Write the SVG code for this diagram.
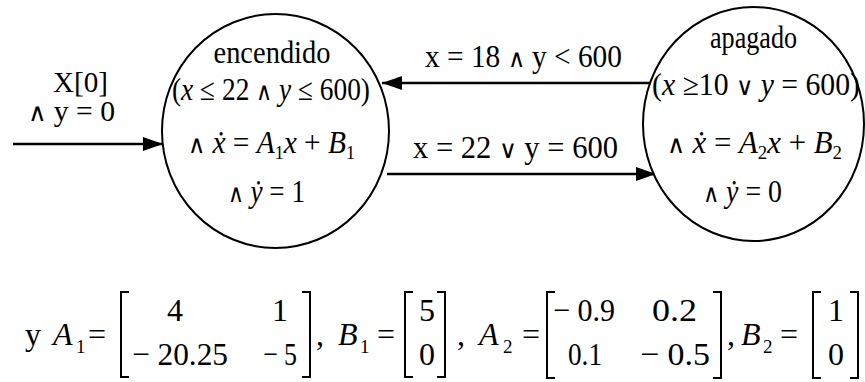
<svg xmlns="http://www.w3.org/2000/svg" width="865" height="382" viewBox="0 0 865 382">
<style>
text{font-family:"Liberation Serif","Times New Roman",serif;font-size:31px;fill:#000}
.i{font-style:italic}
.s{font-size:19px}
.m{font-size:32px}
.lb{font-size:29px}
.op{font-family:"DejaVu Sans ExtraLight","DejaVu Sans",sans-serif;font-weight:200;font-size:25px}
.node{fill:#fff;stroke:#000;stroke-width:2}
.edge{fill:none;stroke:#000;stroke-width:2.5}
.br{fill:none;stroke:#000;stroke-width:2}
</style>
<defs>
<marker id="ah" viewBox="0 0 20 14" refX="20" refY="7" markerWidth="20" markerHeight="14" markerUnits="userSpaceOnUse" orient="auto">
<path d="M0,0 L20,7 L0,14 z" fill="#000"/>
</marker>
</defs>
<rect width="865" height="382" fill="#fff"/>

<g id="connectors">
<path class="edge" d="M13,144 H163" marker-end="url(#ah)"/>
<path class="edge" d="M650,83 H382" marker-end="url(#ah)"/>
<path class="edge" d="M387,174 H656" marker-end="url(#ah)"/>
<text class="lb" x="53" y="92" textLength="55" lengthAdjust="spacingAndGlyphs">X[0]</text>
<text class="lb" x="28" y="121" textLength="87" lengthAdjust="spacingAndGlyphs"><tspan class="op">∧</tspan> y = 0</text>
<text x="425" y="67" textLength="197" lengthAdjust="spacingAndGlyphs">x = 18 <tspan class="op">∧</tspan> y &lt; 600</text>
<text x="413" y="158" textLength="205" lengthAdjust="spacingAndGlyphs">x = 22 <tspan class="op">∨</tspan> y = 600</text>
</g>

<g id="encendido">
<ellipse class="node" cx="275.5" cy="131" rx="113.5" ry="117"/>
<text x="272" y="63" text-anchor="middle" textLength="117" lengthAdjust="spacingAndGlyphs">encendido</text>
<text x="172" y="100" textLength="198" lengthAdjust="spacingAndGlyphs">(<tspan class="i">x</tspan> ≤ 22 <tspan class="op">∧</tspan> <tspan class="i">y</tspan> ≤ 600)</text>
<text x="188" y="153" textLength="167" lengthAdjust="spacingAndGlyphs"><tspan class="op">∧</tspan> <tspan class="i">ẋ</tspan> = <tspan class="i">A</tspan><tspan class="s" dy="6">1</tspan><tspan class="i" dy="-6">x</tspan> + <tspan class="i">B</tspan><tspan class="s" dy="6">1</tspan></text>
<text x="228" y="202" textLength="77" lengthAdjust="spacingAndGlyphs"><tspan class="op">∧</tspan> <tspan class="i">ẏ</tspan> = 1</text>
</g>

<g id="apagado">
<ellipse class="node" cx="753.5" cy="124" rx="110.5" ry="117"/>
<text x="710" y="48" textLength="87" lengthAdjust="spacingAndGlyphs">apagado</text>
<text x="652" y="95" textLength="208" lengthAdjust="spacingAndGlyphs">(<tspan class="i">x</tspan> ≥10 <tspan class="op">∨</tspan> <tspan class="i">y</tspan> = 600)</text>
<text x="667" y="153" textLength="175" lengthAdjust="spacingAndGlyphs"><tspan class="op">∧</tspan> <tspan class="i">ẋ</tspan> = <tspan class="i">A</tspan><tspan class="s" dy="6">2</tspan><tspan class="i" dy="-6">x</tspan> + <tspan class="i">B</tspan><tspan class="s" dy="6">2</tspan></text>
<text x="703" y="202" textLength="79" lengthAdjust="spacingAndGlyphs"><tspan class="op">∧</tspan> <tspan class="i">ẏ</tspan> = 0</text>
</g>

<g id="equation">
<text class="m" x="25" y="345">y</text>
<text class="m i" x="53" y="345">A</text>
<text class="s" x="76" y="353">1</text>
<text class="m" x="88" y="345">=</text>
<path class="br" d="M129,292 H121 V377 H129"/>
<path class="br" d="M302,292 H310 V377 H302"/>
<text class="m" x="175" y="321" text-anchor="middle">4</text>
<text class="m" x="280" y="321" text-anchor="middle">1</text>
<text class="m" x="132" y="365" textLength="96" lengthAdjust="spacingAndGlyphs">− 20.25</text>
<text class="m" x="263" y="365" textLength="34" lengthAdjust="spacingAndGlyphs">− 5</text>
<text class="m" x="316" y="345">,</text>
<text class="m i" x="338" y="345">B</text>
<text class="s" x="360" y="353">1</text>
<text class="m" x="377" y="345">=</text>
<path class="br" d="M413,292 H405 V377 H413"/>
<path class="br" d="M437,292 H445 V377 H437"/>
<text class="m" x="427" y="321" text-anchor="middle">5</text>
<text class="m" x="427" y="365" text-anchor="middle">0</text>
<text class="m" x="457" y="345">,</text>
<text class="m i" x="479" y="345">A</text>
<text class="s" x="503" y="353">2</text>
<text class="m" x="522" y="345">=</text>
<path class="br" d="M555,292 H547 V378 H555"/>
<path class="br" d="M713,292 H721 V378 H713"/>
<text class="m" x="553" y="321" textLength="62" lengthAdjust="spacingAndGlyphs">− 0.9</text>
<text class="m" x="652" y="321" textLength="45" lengthAdjust="spacingAndGlyphs">0.2</text>
<text class="m" x="568" y="365" textLength="34" lengthAdjust="spacingAndGlyphs">0.1</text>
<text class="m" x="640" y="365" textLength="70" lengthAdjust="spacingAndGlyphs">− 0.5</text>
<text class="m" x="727" y="345">,</text>
<text class="m i" x="741" y="345">B</text>
<text class="s" x="763" y="353">2</text>
<text class="m" x="780" y="345">=</text>
<path class="br" d="M821,292 H813 V378 H821"/>
<path class="br" d="M850,292 H858 V378 H850"/>
<text class="m" x="836" y="321" text-anchor="middle">1</text>
<text class="m" x="836" y="365" text-anchor="middle">0</text>
</g>
</svg>
